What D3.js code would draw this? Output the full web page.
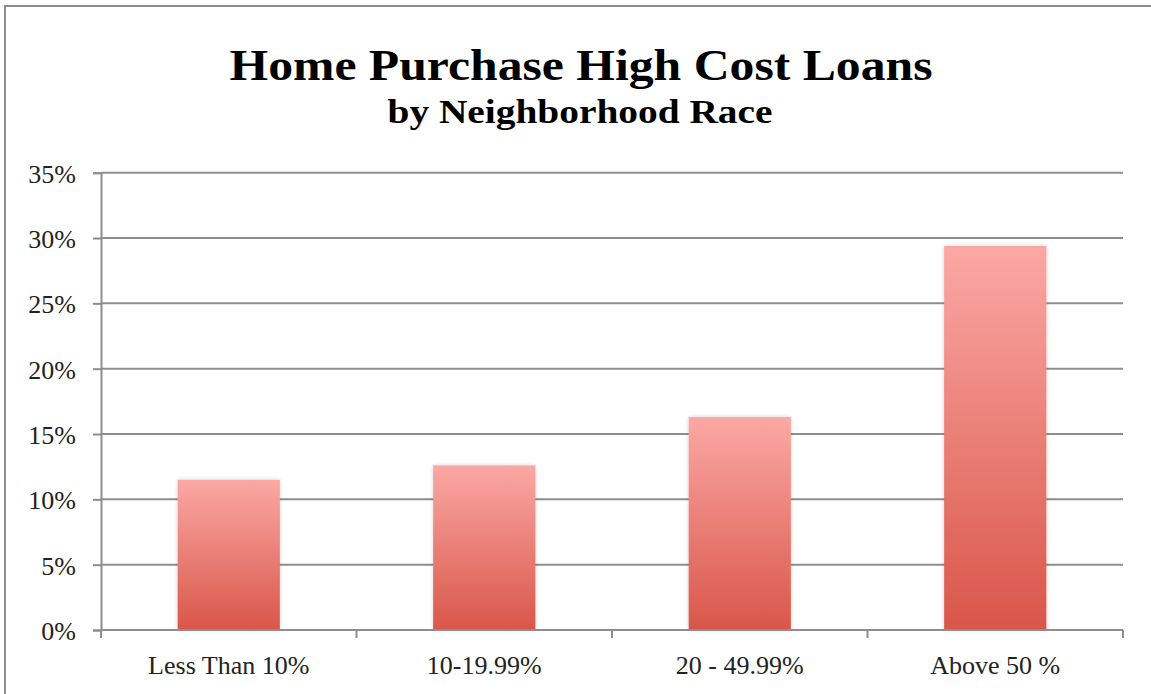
<!DOCTYPE html>
<html>
<head>
<meta charset="utf-8">
<script src="https://cdn.jsdelivr.net/npm/d3@7"></script>
<style>
  html, body { margin: 0; padding: 0; background: #fff; }
  svg { display: block; }
  .tick text { font-family: "Liberation Serif", "DejaVu Serif", serif; fill: #222; }
</style>
</head>
<body>
<svg id="chart" width="1151" height="694"></svg>
<script>
// Share of home purchase loans that are high cost, by neighborhood minority share
const categories = ["Less Than 10%", "10-19.99%", "20 - 49.99%", "Above 50 %"];
const highCostShare = [0.115, 0.126, 0.163, 0.294];
const yTickValues = [0, 0.05, 0.10, 0.15, 0.20, 0.25, 0.30, 0.35];

const titleText = "Home Purchase High Cost Loans";
const subtitleText = "by Neighborhood Race";

const width = 1151, height = 694;
const margin = { top: 172.7, right: 28, bottom: 64, left: 101 };
const labelFont = "'Liberation Serif', 'DejaVu Serif', serif";

const svg = d3.select("#chart");

const defs = svg.append("defs");
const grad = defs.append("linearGradient")
  .attr("id", "barFill")
  .attr("x1", 0).attr("y1", 0).attr("x2", 0).attr("y2", 1);
grad.append("stop").attr("offset", "0%").attr("stop-color", "#fba8a4");
grad.append("stop").attr("offset", "100%").attr("stop-color", "#d9564a");

const shadow = defs.append("filter").attr("id", "barShadow")
  .attr("x", "-10%").attr("y", "-10%").attr("width", "120%").attr("height", "120%");
shadow.append("feGaussianBlur").attr("in", "SourceAlpha").attr("stdDeviation", 2).attr("result", "blur");
shadow.append("feComponentTransfer").attr("in", "blur").attr("result", "soft")
  .append("feFuncA").attr("type", "linear").attr("slope", 0.18);
const merge = shadow.append("feMerge");
merge.append("feMergeNode").attr("in", "soft");
merge.append("feMergeNode").attr("in", "SourceGraphic");

// outer frame of the chart area
svg.append("rect")
  .attr("x", 5).attr("y", 6)
  .attr("width", width + 20).attr("height", height + 20)
  .attr("fill", "none")
  .attr("stroke", "#8e8e8e")
  .attr("stroke-width", 2);

// titles
svg.append("text")
  .attr("x", 581).attr("y", 80)
  .attr("text-anchor", "middle")
  .attr("textLength", 703)
  .attr("lengthAdjust", "spacingAndGlyphs")
  .style("font-family", labelFont)
  .style("font-weight", "bold")
  .style("font-size", "45px")
  .attr("fill", "#000")
  .text(titleText);

svg.append("text")
  .attr("x", 580).attr("y", 123)
  .attr("text-anchor", "middle")
  .attr("textLength", 385)
  .attr("lengthAdjust", "spacingAndGlyphs")
  .style("font-family", labelFont)
  .style("font-weight", "bold")
  .style("font-size", "33px")
  .attr("fill", "#000")
  .text(subtitleText);

const plotW = width - margin.left - margin.right;
const y0 = 630;

const x = d3.scaleBand()
  .domain(categories)
  .range([margin.left, margin.left + plotW])
  .paddingInner(0.6)
  .paddingOuter(0.3);

const y = d3.scaleLinear()
  .domain([0, 0.35])
  .range([y0, margin.top]);

// horizontal gridlines
svg.append("g")
  .selectAll("line")
  .data(yTickValues.filter(v => v > 0))
  .join("line")
  .attr("x1", margin.left).attr("x2", margin.left + plotW)
  .attr("y1", d => y(d)).attr("y2", d => y(d))
  .attr("stroke", "#8e8e8e")
  .attr("stroke-width", 2);

// y axis
const yAxis = d3.axisLeft(y)
  .tickValues(yTickValues)
  .tickFormat(d3.format(".0%"))
  .tickSize(8)
  .tickPadding(17);
const gy = svg.append("g")
  .attr("transform", `translate(${margin.left},0)`)
  .call(yAxis);
gy.select(".domain").attr("stroke", "#8e8e8e").attr("stroke-width", 2);
gy.selectAll(".tick line").attr("stroke", "#8e8e8e").attr("stroke-width", 2);
gy.selectAll(".tick text").style("font-size", "26px").attr("dy", "0.36em");

// bars
svg.append("g")
  .selectAll("rect")
  .data(categories.map((c, i) => ({ c, v: highCostShare[i] })))
  .join("rect")
  .attr("x", d => x(d.c))
  .attr("width", x.bandwidth())
  .attr("y", d => y(d.v))
  .attr("height", d => y(0) - y(d.v))
  .attr("fill", "url(#barFill)")
  .attr("filter", "url(#barShadow)");

// x axis with ticks at category boundaries
const boundaries = d3.range(categories.length + 1);
const xb = d3.scaleLinear().domain([0, categories.length]).range([margin.left, margin.left + plotW]);
const gx = svg.append("g");
gx.append("line")
  .attr("x1", margin.left).attr("x2", margin.left + plotW)
  .attr("y1", y0).attr("y2", y0)
  .attr("stroke", "#8e8e8e").attr("stroke-width", 2);
gx.selectAll("line.bt")
  .data(boundaries)
  .join("line")
  .attr("class", "bt")
  .attr("x1", d => xb(d)).attr("x2", d => xb(d))
  .attr("y1", y0).attr("y2", y0 + 8)
  .attr("stroke", "#8e8e8e").attr("stroke-width", 2);
gx.selectAll("text")
  .data(categories)
  .join("text")
  .attr("x", d => x(d) + x.bandwidth() / 2)
  .attr("y", 674)
  .attr("text-anchor", "middle")
  .style("font-family", labelFont)
  .style("font-size", "26px")
  .attr("fill", "#222")
  .text(d => d);
</script>
</body>
</html>
